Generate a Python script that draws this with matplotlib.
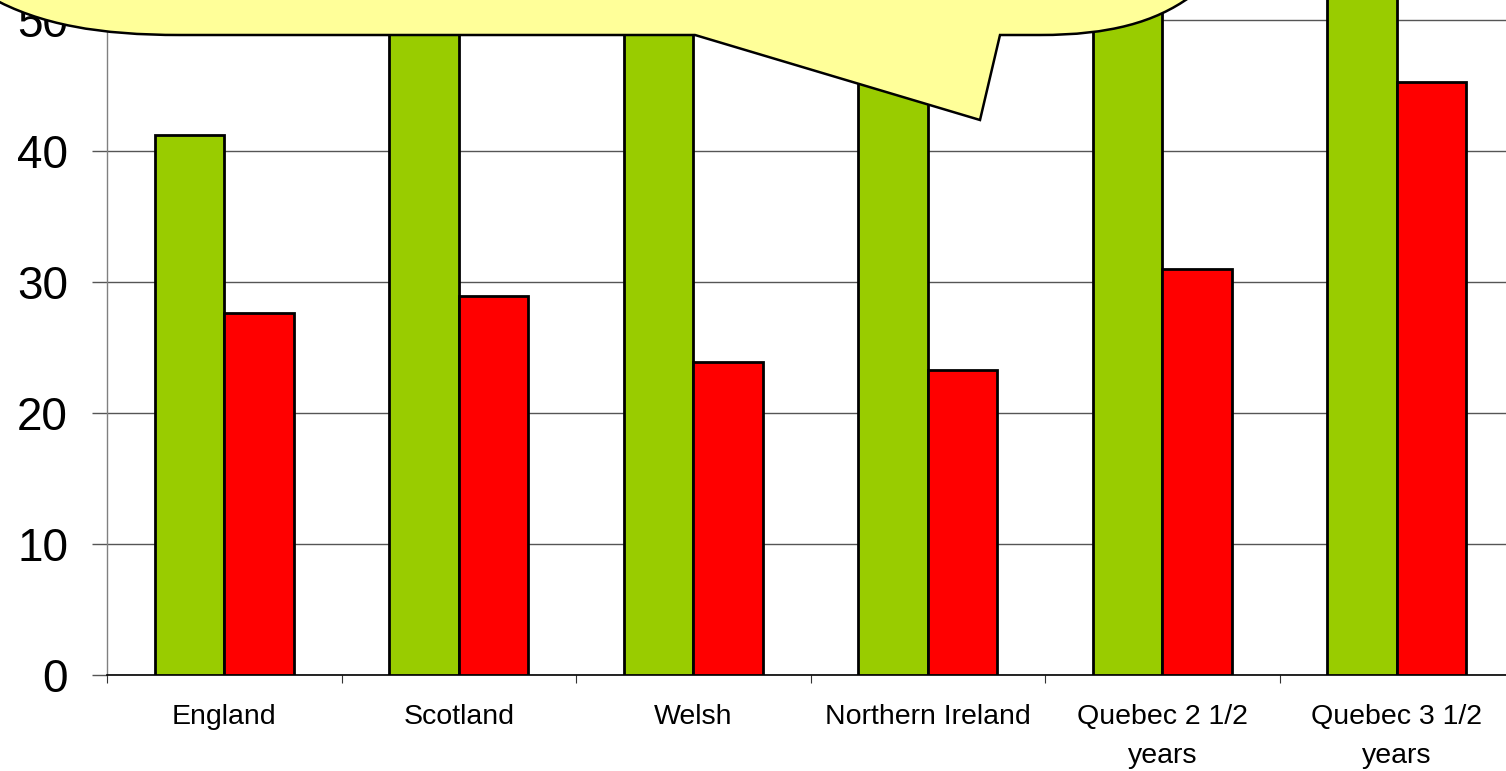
import matplotlib
matplotlib.use("Agg")
import matplotlib.pyplot as plt
import numpy as np
from matplotlib.path import Path
from matplotlib.patches import PathPatch
from matplotlib.transforms import IdentityTransform

categories = ["England", "Scotland", "Welsh", "Northern Ireland",
              "Quebec 2 1/2\nyears", "Quebec 3 1/2\nyears"]
green_values = [41.2, 55.0, 54.0, 52.0, 56.0, 60.0]
red_values = [27.6, 28.9, 23.9, 23.3, 31.0, 45.3]
y_ticks = [0, 10, 20, 30, 40, 50]

plt.rcParams['font.family'] = ['Liberation Sans', 'DejaVu Sans']

W, H = 1506, 771
fig = plt.figure(figsize=(W / 100, H / 100), dpi=100)
unit = 13.1
ymax = 60
ax = fig.add_axes([107 / W, 96 / H, 6 * 234.5 / W, ymax * unit / H])

x = np.arange(len(categories))
bw = 0.296
ax.bar(x - bw / 2, green_values, width=bw, color="#99CC00",
       edgecolor="black", linewidth=2.0, zorder=3)
ax.bar(x + bw / 2, red_values, width=bw, color="#FF0000",
       edgecolor="black", linewidth=2.0, zorder=3)

ax.set_xlim(-0.5, len(categories) - 0.5)
ax.set_ylim(0, ymax)

ax.set_yticks(y_ticks)
ax.set_yticklabels([str(v) for v in y_ticks], fontsize=33)
ax.tick_params(axis='y', length=11, width=1.0, color='#555555', pad=17)
ax.yaxis.grid(True, color='#555555', linewidth=1.0, zorder=0)
ax.set_axisbelow(True)

ax.set_xticks(np.arange(-0.5, len(categories) + 0.5, 1.0))
ax.set_xticklabels([])
ax.set_xticks(x, minor=True)
ax.set_xticklabels(categories, minor=True, fontsize=20.5, linespacing=1.62)
ax.tick_params(axis='x', which='major', length=6, width=0.8, color='#333333', direction='out')
ax.tick_params(axis='x', which='minor', length=0, pad=21)

for s in ['top', 'right']:
    ax.spines[s].set_visible(False)
ax.spines['left'].set_color('#808080')
ax.spines['left'].set_linewidth(1.0)
ax.spines['bottom'].set_color('black')
ax.spines['bottom'].set_linewidth(1.2)

# callout shape (display pixel coordinates, y measured from top in image)
def P(px, py):
    return (px, H - py)

verts = [
    P(-10, -60),
    P(-10, -3),
    P(40, 25), P(100, 35), P(180, 35),
    P(695, 35),
    P(980, 120),
    P(1000, 35),
    P(1040, 35),
    P(1110, 35), P(1155, 22), P(1190, -3),
    P(1190, -60),
    P(-10, -60),
]
codes = [Path.MOVETO, Path.LINETO,
         Path.CURVE4, Path.CURVE4, Path.CURVE4,
         Path.LINETO, Path.LINETO, Path.LINETO, Path.LINETO,
         Path.CURVE4, Path.CURVE4, Path.CURVE4,
         Path.LINETO, Path.CLOSEPOLY]
callout = PathPatch(Path(verts, codes), facecolor="#FFFF99", edgecolor="black",
                    linewidth=1.8, transform=IdentityTransform(), zorder=10)
fig.add_artist(callout)

fig.savefig("out.png", dpi=100)
